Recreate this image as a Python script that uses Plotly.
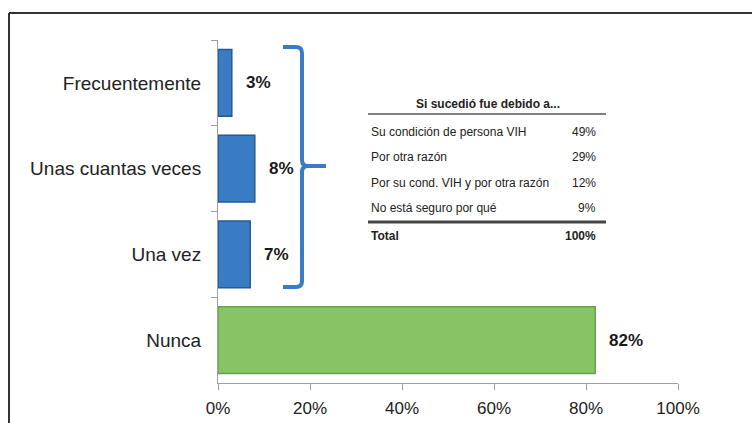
import plotly.graph_objects as go

categories = ["Frecuentemente", "Unas cuantas veces", "Una vez", "Nunca"]
values = [3, 8, 7, 82]
bar_colors = ["#3a7cc4", "#3a7cc4", "#3a7cc4", "#86c466"]
edge_colors = ["#255a96", "#255a96", "#255a96", "#64a347"]

table_title = "Si sucedió fue debido a..."
table_labels = ["Su condición de persona VIH", "Por otra razón",
                "Por su cond. VIH y por otra razón", "No está seguro por qué"]
table_values = ["49%", "29%", "12%", "9%"]
total_label = "Total"
total_value = "100%"

x_ticks = [0, 20, 40, 60, 80, 100]

W, H = 752, 423
PW, PH = 460, 343
L = 218
T = 40
R = W - L - PW
B = H - T - PH

def px(x):
    return (x - L) / PW

def py(y):
    return (T + PH - y) / PH

FONT = "Liberation Sans, Arial, sans-serif"

fig = go.Figure()
fig.add_trace(go.Bar(
    x=values, y=categories, orientation="h",
    marker=dict(color=bar_colors, line=dict(color=edge_colors, width=1.5)),
    width=0.78, hoverinfo="skip",
))

annotations = []
for c, v in zip(categories, values):
    annotations.append(dict(x=v, y=c, xref="x", yref="y", text=f"<b>{v}%</b>",
                            showarrow=False, xanchor="left", xshift=12,
                            font=dict(family=FONT, size=17, color="#1a1a1a")))

# table
annotations.append(dict(x=px(488), y=py(104), xref="paper", yref="paper",
                        text=f"<b>{table_title}</b>", showarrow=False,
                        xanchor="center", yanchor="middle",
                        font=dict(family=FONT, size=12, color="#222")))
row_y = [132, 157, 183, 208]
for lab, val, yy in zip(table_labels, table_values, row_y):
    annotations.append(dict(x=px(369), y=py(yy), xref="paper", yref="paper",
                            text=lab, showarrow=False, xanchor="left", yanchor="middle",
                            font=dict(family=FONT, size=12, color="#222")))
    annotations.append(dict(x=px(598), y=py(yy), xref="paper", yref="paper",
                            text=val, showarrow=False, xanchor="right", yanchor="middle",
                            font=dict(family=FONT, size=12, color="#222")))
annotations.append(dict(x=px(369), y=py(236), xref="paper", yref="paper",
                        text=f"<b>{total_label}</b>", showarrow=False, xanchor="left",
                        yanchor="middle", font=dict(family=FONT, size=12, color="#222")))
annotations.append(dict(x=px(598), y=py(236), xref="paper", yref="paper",
                        text=f"<b>{total_value}</b>", showarrow=False, xanchor="right",
                        yanchor="middle", font=dict(family=FONT, size=12, color="#222")))

def pt(x, y):
    return f"{px(x):.5f},{py(y):.5f}"

brace = (f"M {pt(283,47)} L {pt(296,47)} Q {pt(302,47)} {pt(302,53)} "
         f"L {pt(302,160)} Q {pt(302,166)} {pt(308,166)} L {pt(326,166)} "
         f"M {pt(308,166)} Q {pt(302,166)} {pt(302,172)} "
         f"L {pt(302,281)} Q {pt(302,287)} {pt(296,287)} L {pt(283,287)}")

shapes = [
    # outer frame
    dict(type="line", xref="paper", yref="paper", x0=px(9), x1=px(770), y0=py(13), y1=py(13),
         line=dict(color="#333", width=2)),
    dict(type="line", xref="paper", yref="paper", x0=px(9), x1=px(9), y0=py(13), y1=py(440),
         line=dict(color="#333", width=2)),
    # brace
    dict(type="path", xref="paper", yref="paper", path=brace,
         line=dict(color="#3a7cc4", width=4)),
    # table lines
    dict(type="line", xref="paper", yref="paper", x0=px(368), x1=px(606), y0=py(114), y1=py(114),
         line=dict(color="#555", width=1.5)),
    dict(type="line", xref="paper", yref="paper", x0=px(368), x1=px(606), y0=py(222), y1=py(222),
         line=dict(color="#444", width=3)),
]

fig.update_layout(
    width=W, height=H,
    margin=dict(l=L, r=R, t=T, b=B),
    paper_bgcolor="white", plot_bgcolor="white",
    showlegend=False,
    annotations=annotations, shapes=shapes,
    font=dict(family=FONT, color="#222"),
)
fig.update_xaxes(range=[0, 100], tickvals=x_ticks, ticktext=[f"{t}%" for t in x_ticks],
                 showgrid=False, zeroline=False, showline=True, linecolor="#a0a0a0",
                 ticks="outside", ticklen=6, tickcolor="#a0a0a0", ticklabelstandoff=4,
                 automargin=False,
                 tickfont=dict(family=FONT, size=17, color="#222"), fixedrange=True)
fig.update_yaxes(categoryorder="array", categoryarray=categories, range=[3.5, -0.5],
                 showgrid=False, zeroline=False, showline=True, linecolor="#a0a0a0",
                 ticks="outside", tickson="boundaries", ticklen=6, tickcolor="#a0a0a0",
                 ticklabelstandoff=12, automargin=False,
                 tickfont=dict(family=FONT, size=19, color="#222"), fixedrange=True)

fig.write_html("out.html", config={"displayModeBar": False},
               post_script="document.body.style.margin='0';document.documentElement.style.overflow='hidden';")
